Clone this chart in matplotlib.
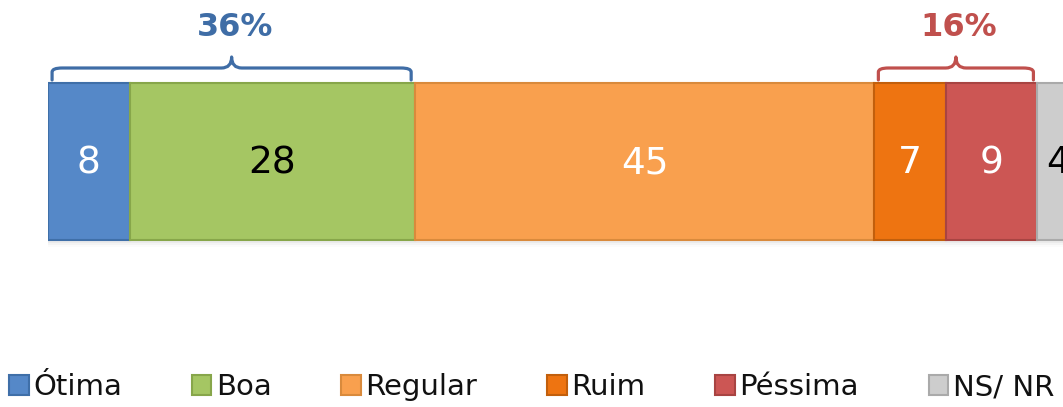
import numpy as np
import matplotlib.pyplot as plt
from matplotlib.path import Path
from matplotlib.patches import PathPatch

categories = ['Ótima', 'Boa', 'Regular', 'Ruim', 'Péssima', 'NS/ NR']
values = [8, 28, 45, 7, 9, 4]
colors = ['#5588C8', '#A5C663', '#F9A04E', '#EE7411', '#CC5654', '#CDCDCD']
edges = ['#3F6FA8', '#87A64A', '#D98A3C', '#C25F0C', '#A84442', '#AAAAAA']
text_colors = ['white', 'black', 'white', 'white', 'white', 'black']

# (first index, last index, label, colour)
groups = [(0, 1, '36%', '#3F6DA6'), (3, 4, '16%', '#C0504D')]

plt.rcParams['font.family'] = ['DejaVu Sans']
fig = plt.figure(figsize=(10.63, 4.07), dpi=100)
ax = fig.add_axes([48 / 1063, 0, 1 - 48 / 1063, 1])
ax.set_xlim(0, 99.5)
ax.set_ylim(407, 0)
ax.axis('off')

left = np.concatenate([[0], np.cumsum(values)[:-1]])
# soft shadow under the bar
for k, a in enumerate([0.10, 0.06, 0.03]):
    ax.barh(241 + 2 * k, values, left=left, height=4, color='#888888',
            alpha=a, linewidth=0)
bars = ax.barh([161.5] * len(values), values, left=left, height=157,
               color=colors, edgecolor=edges, linewidth=1.5)
for v, l, tc in zip(values, left, text_colors):
    ax.text(l + v / 2, 163, str(v), ha='center', va='center',
            fontsize=27, color=tc)

def brace(x0, x1, color):
    xm = (x0 + x1) / 2
    yb, yl, yt = 80, 68, 57
    r = 1.0
    verts = [(x0, yb), (x0, yl + 4), (x0, yl), (x0 + r, yl),
             (xm - r, yl), (xm, yl), (xm, yt),
             (xm, yl), (xm + r, yl),
             (x1 - r, yl), (x1, yl), (x1, yl + 4), (x1, yb)]
    codes = [Path.MOVETO, Path.LINETO, Path.CURVE3, Path.CURVE3,
             Path.LINETO, Path.CURVE3, Path.CURVE3,
             Path.CURVE3, Path.CURVE3,
             Path.LINETO, Path.CURVE3, Path.CURVE3, Path.LINETO]
    ax.add_patch(PathPatch(Path(verts, codes), fill=False, edgecolor=color,
                           lw=2.3, capstyle='round', joinstyle='round'))

for i0, i1, lab, c in groups:
    x0 = left[i0] + 0.4
    x1 = left[i1] + values[i1] - 0.4
    brace(x0, x1, c)
    ax.text((x0 + x1) / 2 + 0.3, 27, lab, ha='center', va='center',
            fontsize=23, fontweight='bold', color=c)

leg = fig.legend(bars, categories, loc='center',
                 bbox_to_anchor=(0.5, 1 - 387 / 407),
                 ncol=6, frameon=False, fontsize=21, handlelength=0.67,
                 handleheight=0.67, handletextpad=0.15, columnspacing=2.4,
                 borderaxespad=0)
for t in leg.get_texts():
    t.set_color('#111111')

fig.savefig('out.png', dpi=100)
